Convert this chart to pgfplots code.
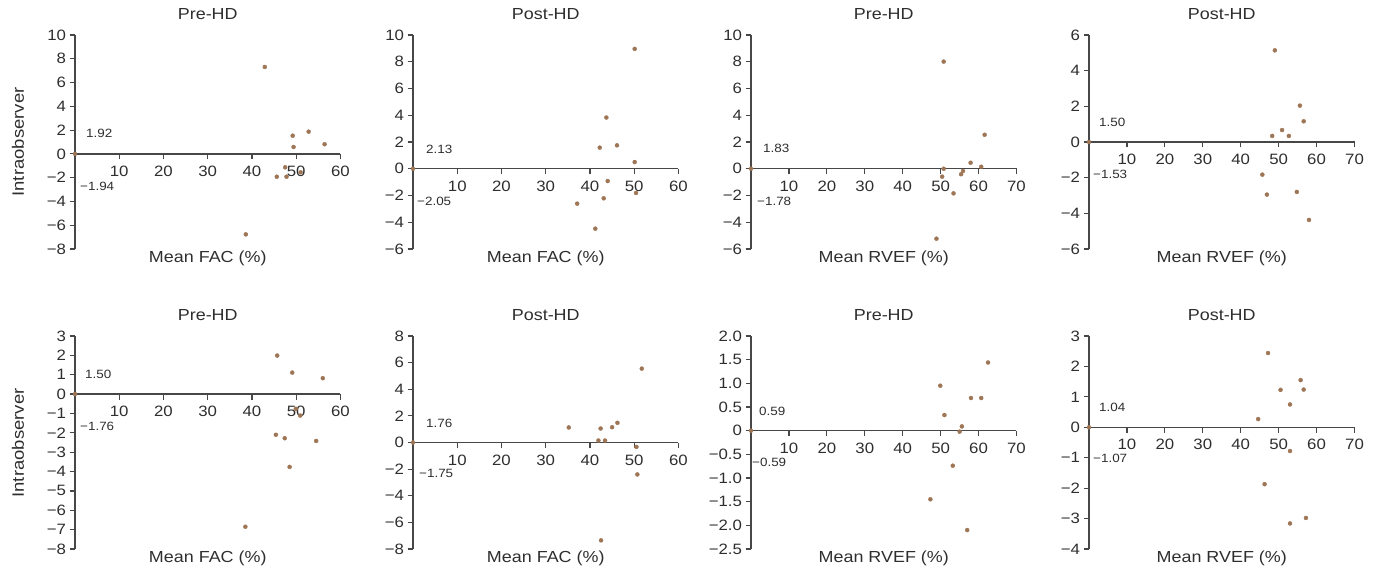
\documentclass[border=0pt]{standalone}
\usepackage{fontspec}
\setmainfont{Liberation Sans}[FakeStretch=1.12]
\usepackage{pgfplots}
\pgfplotsset{compat=1.18}
\definecolor{dotc}{HTML}{9E7656}
\definecolor{axc}{HTML}{474747}
\definecolor{txc}{HTML}{2E2E2E}
\pgfplotsset{
  panel/.style={
    scale only axis, width=265.5pt,
    axis x line=middle, axis y line=left,
    x axis line style={-}, y axis line style={-},
    axis line style={draw=axc, line width=1.3pt},
    xmin=0, enlargelimits=false, clip=false,
    xtick align=outside, ytick align=outside,
    tick style={draw=axc, line width=1.2pt},
    major tick length=5.5pt,
    /pgf/number format/assume math mode=true,
    tick label style={font=\fontsize{15}{17}\selectfont, text=txc},
    xticklabel style={yshift=-3pt},
    title style={at={(axis description cs:0.5,1)}, anchor=south, inner sep=0pt, yshift=9pt,
      font=\fontsize{16}{18}\selectfont, text=txc},
    xlabel style={at={(axis description cs:0.5,0)}, anchor=north, inner sep=0pt, yshift=-2pt,
      font=\fontsize{16}{18}\selectfont, text=txc},
  },
  dots/.style={only marks, mark=*, mark size=2pt, draw=dotc, fill=dotc},
  fac/.style={xmax=60, xtick={10,20,30,40,50,60}, xlabel={Mean FAC (\%)}},
  rvef/.style={xmax=70, xtick={10,20,30,40,50,60,70}, xlabel={Mean RVEF (\%)}},
  toprow/.style={height=214pt},
  botrow/.style={height=213pt},
}
\newcommand{\ann}[3]{\node[anchor=west, inner sep=0pt, text=txc, font=\fontsize{12}{14}\selectfont] at ({#1pt},{570pt-#2pt}) {#3};}
\begin{document}
\begin{tikzpicture}
\path[use as bounding box] (0,0) rectangle (1377pt,570pt);

% ---- row 1 ----
\begin{axis}[panel, toprow, fac, at={(75pt,321pt)}, anchor=south west, title={Pre-HD},
  ymin=-8, ymax=10, ytick={-8,-6,...,10}, yticklabels={−8,−6,−4,−2,0,2,4,6,8,10}]
\addplot[dots] coordinates {(0,0) (42.9,7.31) (49.2,1.53) (52.8,1.87) (56.4,0.81) (49.4,0.58)
  (47.5,-1.13) (45.6,-1.92) (47.8,-1.92) (51.0,-1.55) (38.6,-6.77)};
\end{axis}

\begin{axis}[panel, toprow, fac, at={(413pt,321pt)}, anchor=south west, title={Post-HD},
  ymin=-6, ymax=10, ytick={-6,-4,...,10}, yticklabels={−6,−4,−2,0,2,4,6,8,10}]
\addplot[dots] coordinates {(0,0) (50.1,8.96) (43.7,3.83) (42.2,1.58) (46.1,1.75) (50.1,0.50)
  (44.0,-0.92) (50.4,-1.81) (43.1,-2.21) (37.1,-2.61) (41.2,-4.48)};
\end{axis}

\begin{axis}[panel, toprow, rvef, at={(751pt,321pt)}, anchor=south west, title={Pre-HD},
  ymin=-6, ymax=10, ytick={-6,-4,...,10}, yticklabels={−6,−4,−2,0,2,4,6,8,10}]
\addplot[dots] coordinates {(0,0) (50.8,8.01) (61.6,2.54) (57.9,0.45) (60.7,0.15) (50.8,0.0)
  (50.4,-0.59) (55.9,-0.17) (55.4,-0.41) (53.4,-1.84) (48.9,-5.23)};
\end{axis}

\begin{axis}[panel, toprow, rvef, at={(1089pt,321pt)}, anchor=south west, title={Post-HD},
  ymin=-6, ymax=6, ytick={-6,-4,...,6}, yticklabels={−6,−4,−2,0,2,4,6}]
\addplot[dots] coordinates {(0,0) (49.0,5.14) (55.6,2.04) (56.6,1.16) (50.9,0.67) (48.3,0.34)
  (52.7,0.34) (45.7,-1.83) (46.9,-2.95) (54.8,-2.80) (58.0,-4.37)};
\end{axis}

% ---- row 2 ----
\begin{axis}[panel, botrow, fac, at={(75pt,21pt)}, anchor=south west, title={Pre-HD},
  ymin=-8, ymax=3, ytick={-8,-7,...,3}, yticklabels={−8,−7,−6,−5,−4,−3,−2,−1,0,1,2,3}]
\addplot[dots] coordinates {(0,0) (45.7,1.99) (49.1,1.11) (56.0,0.82) (49.9,-0.76) (50.9,-1.11)
  (45.4,-2.10) (47.4,-2.28) (54.5,-2.42) (48.5,-3.76) (38.5,-6.85)};
\end{axis}

\begin{axis}[panel, botrow, fac, at={(413pt,21pt)}, anchor=south west, title={Post-HD},
  ymin=-8, ymax=8, ytick={-8,-6,...,8}, yticklabels={−8,−6,−4,−2,0,2,4,6,8}]
\addplot[dots] coordinates {(0,0) (51.7,5.55) (35.2,1.13) (42.4,1.05) (45.0,1.15) (46.2,1.48)
  (41.9,0.15) (43.4,0.15) (50.5,-0.33) (50.7,-2.40) (42.5,-7.35)};
\end{axis}

\begin{axis}[panel, botrow, rvef, at={(751pt,21pt)}, anchor=south west, title={Pre-HD},
  ymin=-2.5, ymax=2, ytick={-2.5,-2,-1.5,-1,-0.5,0,0.5,1,1.5,2},
  yticklabels={−2.5,−2.0,−1.5,−1.0,−0.5,0,0.5,1.0,1.5,2.0}]
\addplot[dots] coordinates {(0,0) (62.5,1.44) (49.9,0.95) (58.0,0.69) (60.7,0.69) (51.0,0.33)
  (55.6,0.09) (55.0,-0.02) (53.2,-0.74) (47.3,-1.45) (57.0,-2.10)};
\end{axis}

\begin{axis}[panel, botrow, rvef, at={(1089pt,21pt)}, anchor=south west, title={Post-HD},
  ymin=-4, ymax=3, ytick={-4,-3,...,3}, yticklabels={−4,−3,−2,−1,0,1,2,3}]
\addplot[dots] coordinates {(0,0) (47.2,2.44) (55.8,1.55) (50.5,1.23) (56.6,1.24) (53.0,0.75)
  (44.6,0.27) (53.0,-0.78) (46.3,-1.87) (53.0,-3.16) (57.2,-2.98)};
\end{axis}

% limits-of-agreement values
\ann{86}{133}{1.92}   \ann{80}{186}{−1.94}
\ann{426}{149}{2.13}  \ann{417}{201}{−2.05}
\ann{763}{148}{1.83}  \ann{757}{201}{−1.78}
\ann{1099}{122}{1.50} \ann{1093}{174}{−1.53}
\ann{85}{374}{1.50}   \ann{80}{426}{−1.76}
\ann{426}{423}{1.76}  \ann{419}{473}{−1.75}
\ann{759}{411}{0.59}  \ann{752}{462}{−0.59}
\ann{1099}{407}{1.04} \ann{1093}{458}{−1.07}

% row labels
\node[rotate=90, text=txc, font=\fontsize{16.5}{18}\selectfont] at (18pt,428pt) {Intraobserver};
\node[rotate=90, text=txc, font=\fontsize{16.5}{18}\selectfont] at (18pt,127pt) {Intraobserver};
\end{tikzpicture}
\end{document}
